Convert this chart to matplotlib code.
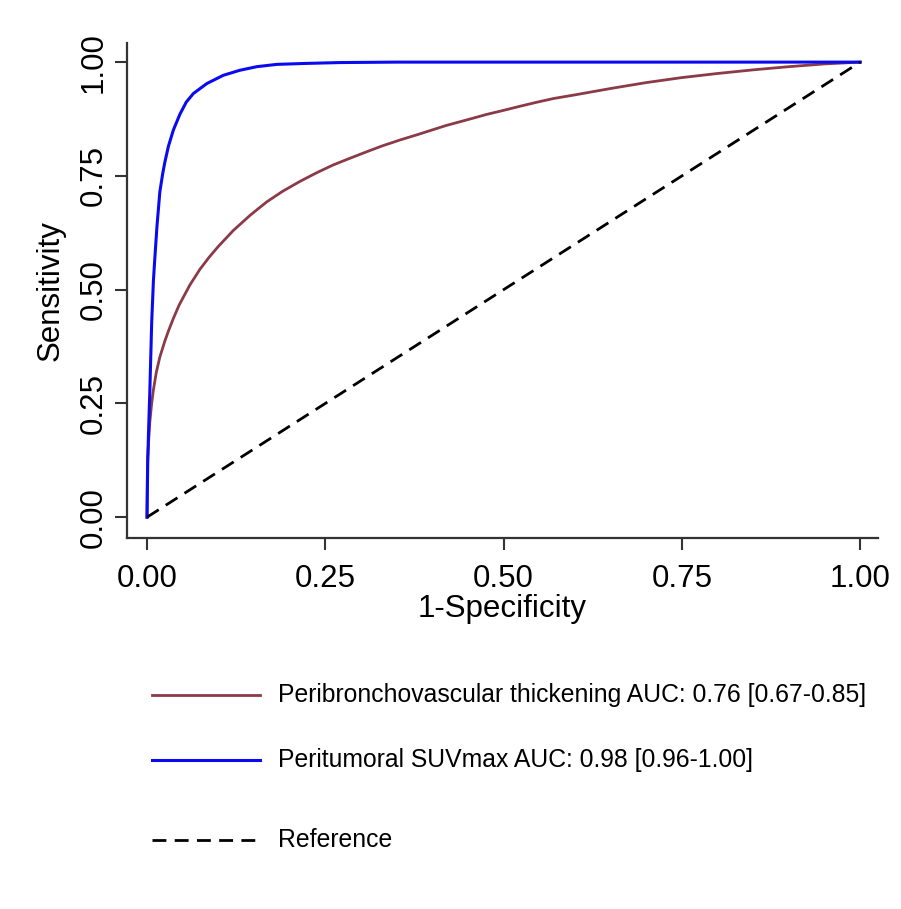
import numpy as np
import matplotlib.pyplot as plt
from matplotlib.lines import Line2D

plt.rcParams['font.family'] = ['Liberation Sans', 'DejaVu Sans']

# ROC points (1-specificity, sensitivity)
pbv_fpr = [0, 0.0005, 0.001, 0.002, 0.004, 0.0065, 0.0089, 0.013, 0.018, 0.025,
           0.03, 0.037, 0.045, 0.06, 0.0743, 0.087, 0.10, 0.121, 0.145, 0.168,
           0.19, 0.2146, 0.238, 0.261, 0.285, 0.308, 0.33, 0.355, 0.38, 0.402,
           0.42, 0.439, 0.46, 0.476, 0.50, 0.523, 0.547, 0.57, 0.60, 0.65,
           0.70, 0.75, 0.80, 0.85, 0.90, 0.95, 1.00]
pbv_tpr = [0, 0.10, 0.13, 0.16, 0.21, 0.25, 0.279, 0.318, 0.352, 0.387,
           0.409, 0.437, 0.466, 0.51, 0.545, 0.571, 0.595, 0.63, 0.664, 0.693,
           0.716, 0.738, 0.757, 0.774, 0.789, 0.803, 0.816, 0.829, 0.841, 0.852,
           0.861, 0.869, 0.878, 0.885, 0.894, 0.903, 0.912, 0.92, 0.928, 0.942,
           0.955, 0.966, 0.975, 0.983, 0.99, 0.996, 1.00]

suv_fpr = [0, 0.001, 0.002, 0.004, 0.0066, 0.009, 0.011, 0.014, 0.018, 0.022,
           0.025, 0.03, 0.037, 0.046, 0.055, 0.065, 0.084, 0.107, 0.13, 0.154,
           0.182, 0.22, 0.27, 0.35, 0.50, 1.00]
suv_tpr = [0, 0.12, 0.18, 0.28, 0.43, 0.52, 0.57, 0.64, 0.715, 0.755,
           0.78, 0.815, 0.851, 0.885, 0.912, 0.931, 0.953, 0.971, 0.982, 0.990,
           0.995, 0.997, 0.999, 1.00, 1.00, 1.00]

ref_x = [0, 1]
ref_y = [0, 1]

labels = ['Peribronchovascular thickening AUC: 0.76 [0.67-0.85]',
          'Peritumoral SUVmax AUC: 0.98 [0.96-1.00]',
          'Reference']
ticks = [0, 0.25, 0.5, 0.75, 1.0]
tick_labels = ['0.00', '0.25', '0.50', '0.75', '1.00']

maroon = '#8b3a48'
blue = '#0a0af0'

fig = plt.figure(figsize=(9.01, 9.09), dpi=100)
ax = fig.add_axes([0.141, 0.408, 0.8335, 0.5447])

ax.plot(pbv_fpr, pbv_tpr, color=maroon, lw=2.0, solid_joinstyle='round')
ax.plot(suv_fpr, suv_tpr, color=blue, lw=2.2, solid_joinstyle='round')
ax.plot(ref_x, ref_y, color='black', lw=2.0, dashes=(5, 3))

ax.set_xlim(-0.028, 1.025)
ax.set_ylim(-0.046, 1.042)
ax.set_xticks(ticks)
ax.set_xticklabels(tick_labels)
ax.set_yticks(ticks)
ax.set_yticklabels(tick_labels, rotation=90, va='center')
ax.tick_params(length=8.5, width=1.5, labelsize=22.5, color='#333333')
ax.tick_params(axis='x', pad=10)
ax.tick_params(axis='y', pad=5)
for side in ['top', 'right']:
    ax.spines[side].set_visible(False)
for side in ['left', 'bottom']:
    ax.spines[side].set_linewidth(1.6)
    ax.spines[side].set_color('#333333')

ax.set_xlabel('1-Specificity', fontsize=22.5, labelpad=0)
ax.set_ylabel('Sensitivity', fontsize=22.5, labelpad=9)

# legend below the plot
rows_y = [0.2354, 0.1639, 0.0759]
styles = [dict(color=maroon, lw=2.0), dict(color=blue, lw=2.2),
          dict(color='black', lw=2.0, dashes=(5, 3))]
for y, lab, st in zip(rows_y, labels, styles):
    fig.add_artist(Line2D([0.1687, 0.2886], [y, y], transform=fig.transFigure, **st))
    fig.text(0.3085, y, lab, fontsize=17.8, va='center', ha='left')

fig.savefig('out.png', dpi=100)
